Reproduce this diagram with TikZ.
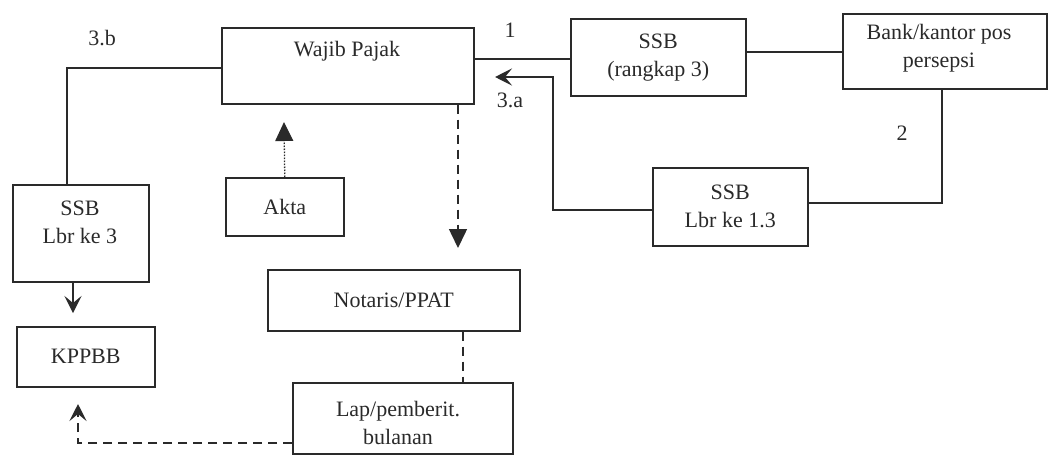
\documentclass[tikz,border=0pt]{standalone}
\usepackage{fontspec}
\setmainfont{Liberation Serif}
\usetikzlibrary{arrows.meta}
\definecolor{ink}{HTML}{2A2A2A}
\tikzset{
  box/.style={draw=ink, line width=1.5pt, rectangle, inner sep=0pt, anchor=north west,
              font=\fontsize{22}{28}\selectfont, text=ink, align=center},
  txt/.style={inner sep=0pt, font=\fontsize{22}{28}\selectfont, text=ink, align=center},
  conn/.style={draw=ink, line width=1.5pt},
  dash conn/.style={conn, dash pattern=on 9pt off 6pt},
  dot conn/.style={draw=ink, line width=1.3pt, dash pattern=on 1.5pt off 1.5pt},
  tri/.style={-{Triangle[length=19pt,width=18pt]}},
  stl/.style={-{Stealth[length=17pt,width=17pt,inset=7pt]}}
}
\begin{document}
\begin{tikzpicture}[x=1pt,y=-1pt]
\useasboundingbox[fill=white] (0,0) rectangle (1051,455);

% boxes
\node[box, minimum width=252pt, minimum height=76pt] (wp) at (221,27) {};
\node[txt] (wpt) at (347,51) {Wajib Pajak};
\node[box, minimum width=175pt, minimum height=77pt] (ssbr) at (570,18) {SSB\\(rangkap 3)};
\node[box, minimum width=204pt, minimum height=75pt] (bank) at (842,13) {};
\node[txt] (bankt) at (939,48) {Bank/kantor pos\\persepsi};
\node[box, minimum width=155pt, minimum height=78pt] (ssb13) at (652,167) {SSB\\Lbr ke 1.3};
\node[box, minimum width=136pt, minimum height=97pt] (ssb3) at (12,184) {};
\node[txt] (ssb3t) at (80,222) {SSB\\Lbr ke 3};
\node[box, minimum width=118pt, minimum height=58pt] (akta) at (225,177) {Akta};
\node[box, minimum width=138pt, minimum height=60pt] (kppbb) at (16,326) {KPPBB};
\node[box, minimum width=252pt, minimum height=61pt] (notaris) at (267,269) {Notaris/PPAT};
\node[box, minimum width=220pt, minimum height=71pt] (lap) at (292,382) {};
\node[txt] (lapt) at (398,423) {Lap/pemberit.\\bulanan};

% labels
\node[txt] (l1) at (510,30) {1};
\node[txt] (l3a) at (510,100) {3.a};
\node[txt] (l3b) at (102,38) {3.b};
\node[txt] (l2) at (902,133) {2};

% helper coordinates
\coordinate (y1) at (0,59);
\coordinate (y2) at (0,52);
\coordinate (c3b) at (67,68);
\coordinate (c2) at (942,203);
\coordinate (c3a1) at (553,210);
\coordinate (c3a2) at (553,77);
\coordinate (tip3a) at (495,77);
\coordinate (tipakta) at (284,122);
\coordinate (tipwp) at (458,248);
\coordinate (cn) at (463,0);
\coordinate (cl) at (78,443);
\coordinate (tipk) at (78,404);
\coordinate (tipk2) at (73,313);

% connectors
\draw[conn] (wp.west |- c3b) -- (c3b) -- (ssb3.north -| c3b);
\draw[conn] (wp.east |- y1) -- (ssbr.west |- y1);
\draw[conn] (ssbr.east |- y2) -- (bank.west |- y2);
\draw[conn] (bank.south -| c2) -- (c2) -- (ssb13.east |- c2);
\draw[conn, stl] (ssb13.west |- c3a1) -- (c3a1) -- (c3a2) -- (tip3a);
\draw[conn, stl] (ssb3.south -| tipk2) -- (tipk2);
\draw[dot conn, tri] (akta.north) -- (tipakta);
\draw[dash conn, tri] (wp.south -| tipwp) -- (tipwp);
\draw[dash conn] (notaris.south -| cn) -- (lap.north -| cn);
\draw[dash conn, stl] (lap.west |- cl) -- (cl) -- (tipk);
\end{tikzpicture}
\end{document}
